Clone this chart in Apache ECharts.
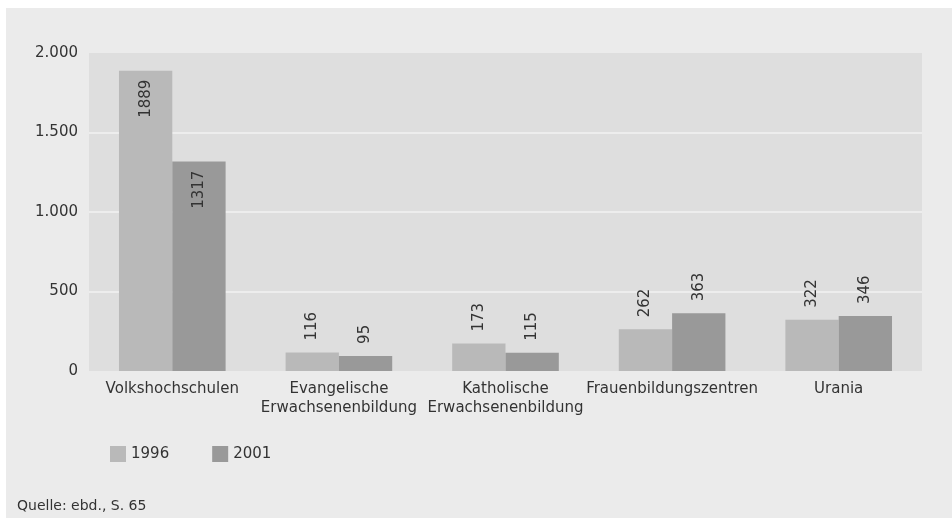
<!DOCTYPE html>
<html><head><meta charset="utf-8">
<script src="https://cdn.jsdelivr.net/npm/echarts@6/dist/echarts.min.js"></script>
<style>html,body{margin:0;padding:0;background:#fff}#c{width:952px;height:524px}</style>
</head><body><div id="c"></div>
<script>
const categories = ['Volkshochschulen', 'Evangelische\nErwachsenenbildung', 'Katholische\nErwachsenenbildung', 'Frauenbildungszentren', 'Urania'];
const series1996 = [1889, 116, 173, 262, 322];
const series2001 = [1317, 95, 115, 363, 346];
const seriesNames = ['1996', '2001'];
const yTicks = [0, 500, 1000, 1500, 2000];
const FONT = 'DejaVu Sans';
const TXT = '#333333';
const FS = 15;

function mkData(vals) {
  return vals.map(v => {
    const inside = v > 1000;
    return {
      value: v,
      label: inside
        ? { position: 'insideTop', rotate: 90, align: 'right', verticalAlign: 'middle', distance: 9 }
        : { position: 'top', rotate: 90, align: 'left', verticalAlign: 'middle', distance: 12 }
    };
  });
}

const chart = echarts.init(document.getElementById('c'));
chart.setOption({
  animation: false,
  backgroundColor: '#ffffff',
  textStyle: { fontFamily: FONT },
  graphic: [{ type: 'rect', left: 6, top: 8, shape: { width: 946, height: 510 }, style: { fill: '#ebebeb' }, z: -10 },
            { type: 'text', left: 17, top: 499, style: { text: 'Quelle: ebd., S. 65', fill: TXT, font: '14px "' + FONT + '"' } }],
  grid: { left: 89, right: 30, top: 53, bottom: 153, show: true, backgroundColor: '#dedede', borderWidth: 0 },
  legend: {
    left: 105, top: 441, itemWidth: 16, itemHeight: 16, itemGap: 43,
    icon: 'rect', textStyle: { color: TXT, fontSize: FS, fontFamily: FONT },
    data: seriesNames
  },
  xAxis: {
    type: 'category', data: categories,
    axisLine: { show: false }, axisTick: { show: false },
    axisLabel: { color: TXT, fontSize: FS, fontFamily: FONT, margin: 9, lineHeight: 19, interval: 0 }
  },
  yAxis: {
    type: 'value', min: 0, max: 2000, interval: 500,
    axisLine: { show: false }, axisTick: { show: false },
    axisLabel: { color: TXT, fontSize: FS, fontFamily: FONT, margin: 11,
      formatter: v => yTicks.includes(v) ? v.toLocaleString('de-DE') : '' },
    splitLine: { showMinLine: false, showMaxLine: false, lineStyle: { color: '#f2f2f2', width: 1.5 } }
  },
  series: [
    { name: seriesNames[0], type: 'bar', data: mkData(series1996), itemStyle: { color: '#b9b9b9' },
      barGap: '0%', barCategoryGap: '36%',
      label: { show: true, color: TXT, fontSize: FS, fontFamily: FONT } },
    { name: seriesNames[1], type: 'bar', data: mkData(series2001), itemStyle: { color: '#999999' },
      barGap: '0%', barCategoryGap: '36%',
      label: { show: true, color: TXT, fontSize: FS, fontFamily: FONT } }
  ]
});
</script></body></html>
